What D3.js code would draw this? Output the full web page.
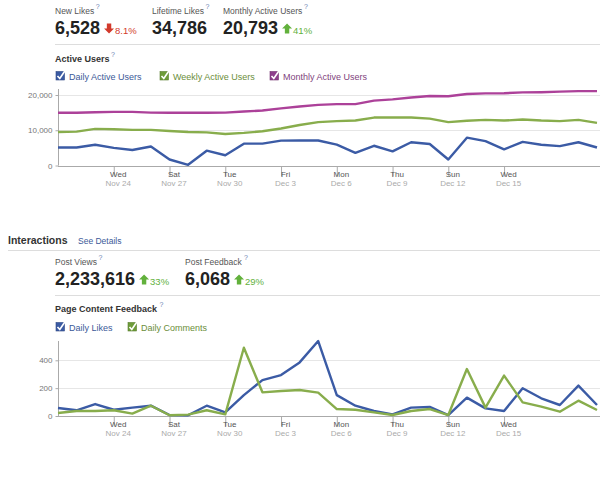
<!DOCTYPE html>
<html>
<head>
<meta charset="utf-8">
<script src="https://cdn.jsdelivr.net/npm/d3@7"></script>
<style>
  body { margin: 0; background: #fff; }
  svg { display: block; font-family: "Liberation Sans", Arial, sans-serif; }
</style>
</head>
<body>
<svg id="page" width="600" height="480"></svg>
<script>
'use strict'
// days shown in both charts (one point per day)
var startDay = new Date(2010, 10, 21);
var dayCount = 30;
var days = d3.range(dayCount).map(function (i) { return d3.timeDay.offset(startDay, i); });

// Active Users
var dailyActive = [5100, 5100, 5900, 5000, 4400, 5400, 1700, 200, 4200, 2900,
    6200, 6200, 7050, 7100, 7100, 5900, 3600, 5600, 4000, 6600,
    6100, 1700, 7900, 6900, 4600, 6700, 5900, 5500, 6600, 5100];
var weeklyActive = [9500, 9600, 10400, 10300, 10100, 10100, 9800, 9500, 9400, 8950,
    9250, 9700, 10500, 11500, 12300, 12600, 12750, 13600, 13600, 13600,
    13300, 12300, 12700, 12950, 12750, 13050, 12750, 12600, 12950, 12100];
var monthlyActive = [14950, 14950, 15100, 15200, 15200, 15000, 14950, 14950, 14950, 15000,
    15300, 15600, 16200, 16750, 17200, 17400, 17400, 18400, 18750, 19300,
    19700, 19650, 20300, 20450, 20500, 20750, 20800, 20950, 21100, 21100];

// Page Content Feedback
var dailyLikes = [57, 41, 86, 45, 60, 74, 7, 5, 74, 26,
    150, 258, 294, 385, 538, 150, 74, 36, 12, 60,
    65, 7, 132, 55, 36, 199, 127, 79, 218, 79];
var dailyComments = [22, 36, 36, 41, 17, 74, 5, 10, 41, 12,
    490, 170, 180, 187, 168, 50, 45, 26, 7, 36,
    50, 7, 337, 60, 290, 98, 67, 31, 110, 43];

// x axis labels
var tickDays = ["Wed", "Sat", "Tue", "Fri", "Mon", "Thu", "Sun", "Wed"];
var tickDates = ["Nov 24", "Nov 27", "Nov 30", "Dec 3", "Dec 6", "Dec 9", "Dec 12", "Dec 15"];
var tickDayValues = d3.range(3, dayCount, 3).slice(0, tickDays.length).map(function (i) { return days[i]; });

var activeTicks = [0, 10000, 20000];
var feedbackTicks = [0, 200, 400];

var BLUE = "#3b5ba5", GREEN = "#88ad4c", PURPLE = "#ac4199";
var LINK = "#3b5998";

var svg = d3.select("#page");

var x = d3.scaleTime()
    .domain([days[0], days[dayCount - 1]])
    .range([58, 597]);

//问号跟在文字后面
function question(g, textNode, ty) {
    var end = textNode.node().getBBox();
    g.append("text").attr("x", end.x + end.width + 1.5).attr("y", ty - 5)
        .attr("font-size", 7).attr("fill", "#6d84b4").text("?");
}

//画一段统计数字
function stat(g, left, ty, label, value, change, up) {
    var lab = g.append("text").attr("x", left).attr("y", ty)
        .attr("font-size", 8.5).attr("fill", "#555").text(label);
    question(g, lab, ty);
    var num = g.append("text").attr("x", left).attr("y", ty + 19.5)
        .attr("font-size", 18).attr("font-weight", "bold").attr("fill", "#222").text(value);
    if (change == null) return;
    var numW = num.node().getComputedTextLength();
    var ax = left + numW + 4, ay = ty + 9.5;
    var col = up ? "#62b13c" : "#d23a2c";
    var shape = up
        ? "M5,0 L10,5 L7.2,5 L7.2,10 L2.8,10 L2.8,5 L0,5 Z"
        : "M2.8,0 L7.2,0 L7.2,5 L10,5 L5,10 L0,5 L2.8,5 Z";
    g.append("path").attr("d", shape).attr("fill", col)
        .attr("transform", "translate(" + ax + "," + ay + ")");
    g.append("text").attr("x", ax + 11).attr("y", ty + 19.5)
        .attr("font-size", 9.5).attr("fill", col).text(change);
}

function checkbox(g, bx, by, fill, label, textCol) {
    g.append("rect").attr("x", bx).attr("y", by).attr("width", 8.5).attr("height", 8.5)
        .attr("fill", fill).attr("stroke", d3.color(fill).darker(0.6)).attr("stroke-width", 0.6);
    g.append("path").attr("d", "M" + (bx + 1.5) + "," + (by + 4.5) + " L" + (bx + 3.8) + "," + (by + 7)
            + " L" + (bx + 9) + "," + (by - 0.8))
        .attr("fill", "none").attr("stroke", "#fff").attr("stroke-width", 1.6);
    g.append("text").attr("x", bx + 13).attr("y", by + 8.5)
        .attr("font-size", 9).attr("fill", textCol).text(label);
}

function title(g, tx, ty, label) {
    var t = g.append("text").attr("x", tx).attr("y", ty)
        .attr("font-size", 9).attr("font-weight", "bold").attr("fill", "#333").text(label);
    question(g, t, ty);
}

function hline(g, x1, x2, yy) {
    g.append("line").attr("x1", x1).attr("x2", x2).attr("y1", yy).attr("y2", yy)
        .attr("stroke", "#ddd").attr("stroke-width", 1);
}

//画折线图
function drawChart(g, y, yTicks, yFormat, axisTop, series) {
    // grid lines
    g.append("g").selectAll("line").data(yTicks.slice(1)).enter().append("line")
        .attr("x1", 58).attr("x2", 600)
        .attr("y1", function (d) { return Math.round(y(d)) + 0.5; })
        .attr("y2", function (d) { return Math.round(y(d)) + 0.5; })
        .attr("stroke", "#e6e6e6");

    var yAxis = g.append("g").attr("transform", "translate(58.5,0)")
        .call(d3.axisLeft(y).tickValues(yTicks).tickFormat(yFormat).tickSize(3).tickPadding(3));
    yAxis.select(".domain").remove();
    yAxis.append("line").attr("y1", axisTop).attr("y2", y(0)).attr("stroke", "#aaa");
    yAxis.selectAll(".tick line").attr("stroke", "#aaa");
    yAxis.selectAll(".tick text").attr("fill", "#777").attr("font-size", 8)
        .attr("font-family", "Liberation Sans, Arial, sans-serif");

    var base = Math.round(y(0)) + 0.5;
    var xAxis = g.append("g").attr("transform", "translate(0," + base + ")")
        .call(d3.axisBottom(x).tickValues(tickDayValues).tickSize(10).tickFormat(""));
    xAxis.select(".domain").attr("d", "M58,0H600").attr("stroke", "#aaa");
    xAxis.selectAll(".tick line").attr("stroke", "#aaa");
    xAxis.selectAll(".tick text").remove();
    xAxis.selectAll(".tick").each(function (d, i) {
        var t = d3.select(this).append("text").attr("x", 4)
            .attr("font-family", "Liberation Sans, Arial, sans-serif").attr("font-size", 8);
        t.append("tspan").attr("x", 4).attr("y", 10).attr("fill", "#555").text(tickDays[i]);
        t.append("tspan").attr("x", 4).attr("y", 19.5).attr("fill", "#aaa").text(tickDates[i]);
    });

    series.forEach(function (s) {
        var line = d3.line()
            .x(function (d, i) { return x(days[i]); })
            .y(function (d) { return y(d); });
        g.append("path").datum(s.values)
            .attr("d", line)
            .attr("fill", "none")
            .attr("stroke", s.color)
            .attr("stroke-width", 2.4)
            .attr("stroke-linejoin", "round");
    });
}

// ---------- 上半部分: Active Users ----------
var topPart = svg.append("g");
stat(topPart, 55, 14, "New Likes", "6,528", "8.1%", false);
stat(topPart, 152, 14, "Lifetime Likes", "34,786", null, true);
stat(topPart, 223, 14, "Monthly Active Users", "20,793", "41%", true);
hline(topPart, 55, 600, 44.5);
title(topPart, 55, 61.5, "Active Users");
checkbox(topPart, 56, 71.5, "#3b5ba3", "Daily Active Users", "#3b5998");
checkbox(topPart, 160, 71.5, "#6e9c3a", "Weekly Active Users", "#6b8e3a");
checkbox(topPart, 270, 71.5, "#8e3f8c", "Monthly Active Users", "#7f3f7d");

var yActive = d3.scaleLinear().domain([0, 20000]).range([165.5, 95]);
drawChart(topPart, yActive, activeTicks, d3.format(","), 89, [
    { values: monthlyActive, color: PURPLE },
    { values: weeklyActive, color: GREEN },
    { values: dailyActive, color: BLUE }
]);

// ---------- 下半部分: Interactions ----------
var bottomPart = svg.append("g");
bottomPart.append("text").attr("x", 8).attr("y", 244)
    .attr("font-size", 10.5).attr("font-weight", "bold").attr("fill", "#333").text("Interactions");
bottomPart.append("text").attr("x", 78).attr("y", 244)
    .attr("font-size", 8.5).attr("fill", LINK).text("See Details");
hline(bottomPart, 8, 600, 250.5);
stat(bottomPart, 55, 265, "Post Views", "2,233,616", "33%", true);
stat(bottomPart, 185, 265, "Post Feedback", "6,068", "29%", true);
hline(bottomPart, 55, 600, 295.5);
title(bottomPart, 55, 312, "Page Content Feedback");
checkbox(bottomPart, 56, 322.5, "#3b5ba3", "Daily Likes", "#3b5998");
checkbox(bottomPart, 128, 322.5, "#6e9c3a", "Daily Comments", "#6b8e3a");

var yFeedback = d3.scaleLinear().domain([0, 400]).range([416, 360.3]);
drawChart(bottomPart, yFeedback, feedbackTicks, d3.format("d"), 341, [
    { values: dailyLikes, color: BLUE },
    { values: dailyComments, color: GREEN }
]);
</script>
</body>
</html>
